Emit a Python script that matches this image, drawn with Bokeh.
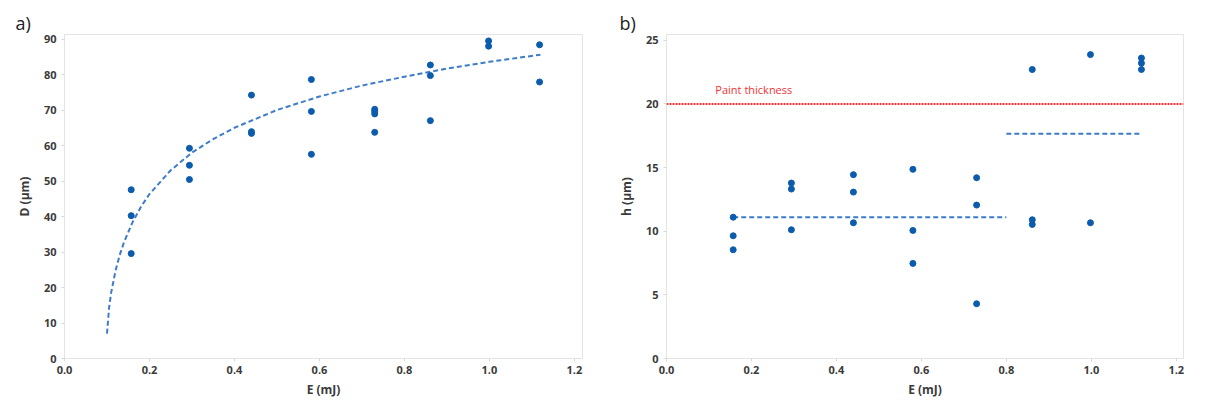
from bokeh.plotting import figure
from bokeh.layouts import row
from bokeh.models import Range1d, FixedTicker, PrintfTickFormatter, Label, Span
from bokeh.embed import file_html
from bokeh.resources import INLINE

# ---- panel a) data: crater diameter D vs pulse energy E ----
a_E = [0.157, 0.157, 0.157, 0.294, 0.294, 0.294, 0.44, 0.44, 0.44,
       0.581, 0.581, 0.581, 0.73, 0.73, 0.73, 0.73, 0.861, 0.861, 0.861,
       0.998, 0.998, 1.118, 1.118]
a_D = [47.6, 40.3, 29.6, 59.3, 54.5, 50.5, 74.3, 64.0, 63.5,
       78.7, 69.7, 57.6, 70.3, 69.7, 69.0, 63.8, 82.8, 79.8, 67.1,
       89.6, 88.1, 88.5, 78.0]

# fitted trend curve
fit_E = [0.100, 0.105, 0.110, 0.120, 0.130, 0.140, 0.160, 0.180, 0.200,
         0.250, 0.300, 0.350, 0.400, 0.500, 0.600, 0.700, 0.800, 0.900,
         1.000, 1.120]
fit_D = [7.0, 14.4, 18.7, 24.7, 29.2, 32.8, 38.4, 42.8, 46.4,
         53.1, 58.1, 61.9, 65.1, 70.1, 73.9, 77.0, 79.5, 81.8,
         83.7, 85.7]

# ---- panel b) data: depth h vs pulse energy E ----
b_E = [0.157, 0.157, 0.157, 0.294, 0.294, 0.294, 0.44, 0.44, 0.44,
       0.58, 0.58, 0.58, 0.73, 0.73, 0.73, 0.861, 0.861, 0.861,
       0.998, 0.998, 1.118, 1.118, 1.118]
b_h = [11.1, 9.64, 8.54, 13.78, 13.31, 10.11, 14.44, 13.07, 10.66,
       14.86, 10.06, 7.47, 14.2, 12.05, 4.3, 22.7, 10.9, 10.53,
       23.87, 10.66, 23.6, 23.2, 22.7]

# mean levels (two regimes)
mean1_E = [0.157, 0.80]
mean1_h = [11.1, 11.1]
mean2_E = [0.80, 1.118]
mean2_h = [17.66, 17.66]

paint_thickness = 20.0

x_ticks = [0.0, 0.2, 0.4, 0.6, 0.8, 1.0, 1.2]
a_y_ticks = [0, 10, 20, 30, 40, 50, 60, 70, 80, 90]
b_y_ticks = [0, 5, 10, 15, 20, 25]

PT = "#0b5cad"
DASH = "#3d7cc9"
RED = "#ee3333"
FONT = "Open Sans"
TXT = "#3a3a3a"


def style(p, yticks, ylabel, panel, offset):
    p.outline_line_color = "#e4e4e4"
    p.grid.visible = False
    p.xaxis.ticker = FixedTicker(ticks=x_ticks)
    p.xaxis.formatter = PrintfTickFormatter(format="%.1f")
    p.yaxis.ticker = FixedTicker(ticks=yticks)
    p.xaxis.axis_label = "E (mJ)"
    p.yaxis.axis_label = ylabel
    for ax in (p.xaxis, p.yaxis):
        ax.axis_line_color = None
        ax.major_tick_line_color = "#d8d8d8"
        ax.major_tick_out = 3
        ax.major_tick_in = 0
        ax.minor_tick_line_color = None
        ax.major_label_text_font = FONT
        ax.major_label_text_font_size = "11px"
        ax.major_label_text_font_style = "bold"
        ax.major_label_text_color = TXT
        ax.axis_label_text_font = FONT
        ax.axis_label_text_font_size = "12px"
        ax.axis_label_text_font_style = "bold"
        ax.axis_label_text_color = TXT
    p.xaxis.major_label_standoff = 4
    p.xaxis.axis_label_standoff = 4
    p.yaxis.major_label_standoff = 5
    p.yaxis.axis_label_standoff = 8
    p.title.text = panel
    p.title.align = "left"
    p.title.offset = offset
    p.title.text_font = FONT
    p.title.text_font_size = "18px"
    p.title.text_font_style = "normal"
    p.title.text_color = "#222222"
    p.title.text_line_height = 0.6
    p.title.standoff = 0


# ---------------- left figure ----------------
p1 = figure(width=606, height=403, output_backend="svg", toolbar_location=None,
            x_range=Range1d(0, 1.219), y_range=Range1d(0, 91.4),
            min_border_left=64, min_border_right=24, min_border_top=34,
            min_border_bottom=45)
style(p1, a_y_ticks, "D (μm)", "a)", -49)
p1.line(fit_E, fit_D, line_color=DASH, line_width=2, line_dash="5 3")
p1.scatter(a_E, a_D, size=6, fill_color=PT, line_color=PT)

# ---------------- right figure ----------------
p2 = figure(width=600, height=403, output_backend="svg", toolbar_location=None,
            x_range=Range1d(0, 1.217), y_range=Range1d(0, 25.45),
            min_border_left=60, min_border_right=23, min_border_top=34,
            min_border_bottom=45)
style(p2, b_y_ticks, "h (μm)", "b)", -47)
p2.add_layout(Span(location=paint_thickness, dimension="width", line_color=RED,
                   line_width=2, line_dash="2 1"))
p2.add_layout(Label(x=0.115, y=21.15, text="Paint thickness", text_font=FONT,
                    text_font_size="11px", text_color=RED,
                    text_baseline="middle", text_align="left"))
p2.line(mean1_E, mean1_h, line_color=DASH, line_width=2, line_dash="5 3")
p2.line(mean2_E, mean2_h, line_color=DASH, line_width=2, line_dash="5 3")
p2.scatter(b_E, b_h, size=6, fill_color=PT, line_color=PT)

layout = row(p1, p2)
open("out.html", "w").write(file_html(layout, INLINE))
